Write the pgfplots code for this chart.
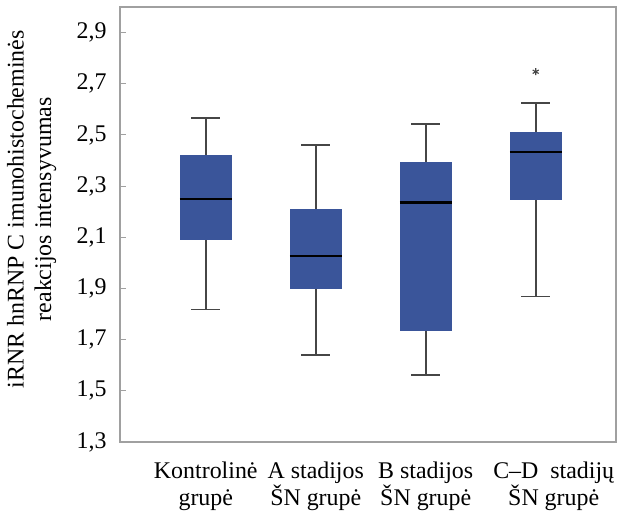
\documentclass[border=0pt]{standalone}
\usepackage{pgfplots}
\pgfplotsset{compat=1.18}
\usepgfplotslibrary{statistics}
\usepackage{fontspec}
\setmainfont{Liberation Serif}
\definecolor{boxblue}{RGB}{58,85,154}
\definecolor{whiskgray}{RGB}{70,70,70}
\definecolor{framegray}{RGB}{160,160,160}
\begin{document}
\begin{tikzpicture}[font=\fontsize{24}{27.5}\selectfont]
\begin{axis}[
  scale only axis,
  width=496bp, height=435bp,
  xmin=0.22, xmax=4.73,
  ymin=1.3, ymax=3.0,
  ytick={1.3,1.5,1.7,1.9,2.1,2.3,2.5,2.7,2.9},
  /pgf/number format/use comma,
  /pgf/number format/fixed,
  /pgf/number format/fixed zerofill,
  /pgf/number format/precision=1,
  /pgf/number format/assume math mode=true,
  yticklabel style={xshift=-10bp},
  xtick={1,2,3,4},
  xticklabels={{Kontrolinė\\grupė},{A stadijos\\ŠN grupė},{B stadijos\\ŠN grupė},{\hspace*{36bp}C–D\ \ stadijų\\\hspace*{36bp}ŠN grupė}},
  xticklabel style={align=center, yshift=-16bp},
  xtick style={draw=none},
  ytick pos=left,
  major tick length=6bp,
  ytick style={draw=framegray, line width=1pt},
  axis line style={draw=framegray, line width=1.2pt},
  ylabel={iRNR hnRNP C imunohistocheminės\\reakcijos intensyvumas},
  ylabel style={align=center, at={(axis description cs:-0.178,0.535)}, anchor=center},
  boxplot/draw direction=y,
  boxplot/box extend=0.47,
  boxplot/whisker extend=0.26,
  boxplot/every box/.style={fill=boxblue, draw=boxblue},
  boxplot/every whisker/.style={draw=whiskgray, line width=1.8pt},
  boxplot/every median/.style={draw=black, line width=2.6pt},
]
\addplot[boxplot prepared={draw position=1, lower whisker=1.818, lower quartile=2.092, median=2.249, upper quartile=2.420, upper whisker=2.567}] coordinates {};
\addplot[boxplot prepared={draw position=2, lower whisker=1.641, lower quartile=1.900, median=2.027, upper quartile=2.210, upper whisker=2.462}] coordinates {};
\addplot[boxplot prepared={draw position=3, lower whisker=1.563, lower quartile=1.736, median=2.236, upper quartile=2.393, upper whisker=2.543}] coordinates {};
\addplot[boxplot prepared={draw position=4, lower whisker=1.869, lower quartile=2.249, median=2.433, upper quartile=2.512, upper whisker=2.625}, mark=asterisk, mark size=3.5bp, mark options={draw=whiskgray, line width=1.1pt}] table[row sep=\\, y index=0] {y\\ 2.747\\};
\end{axis}
\pgfresetboundingbox
\path (current axis.south west) ++(-120bp,-78bp) rectangle ++(619bp,520bp);
\end{tikzpicture}
\end{document}
